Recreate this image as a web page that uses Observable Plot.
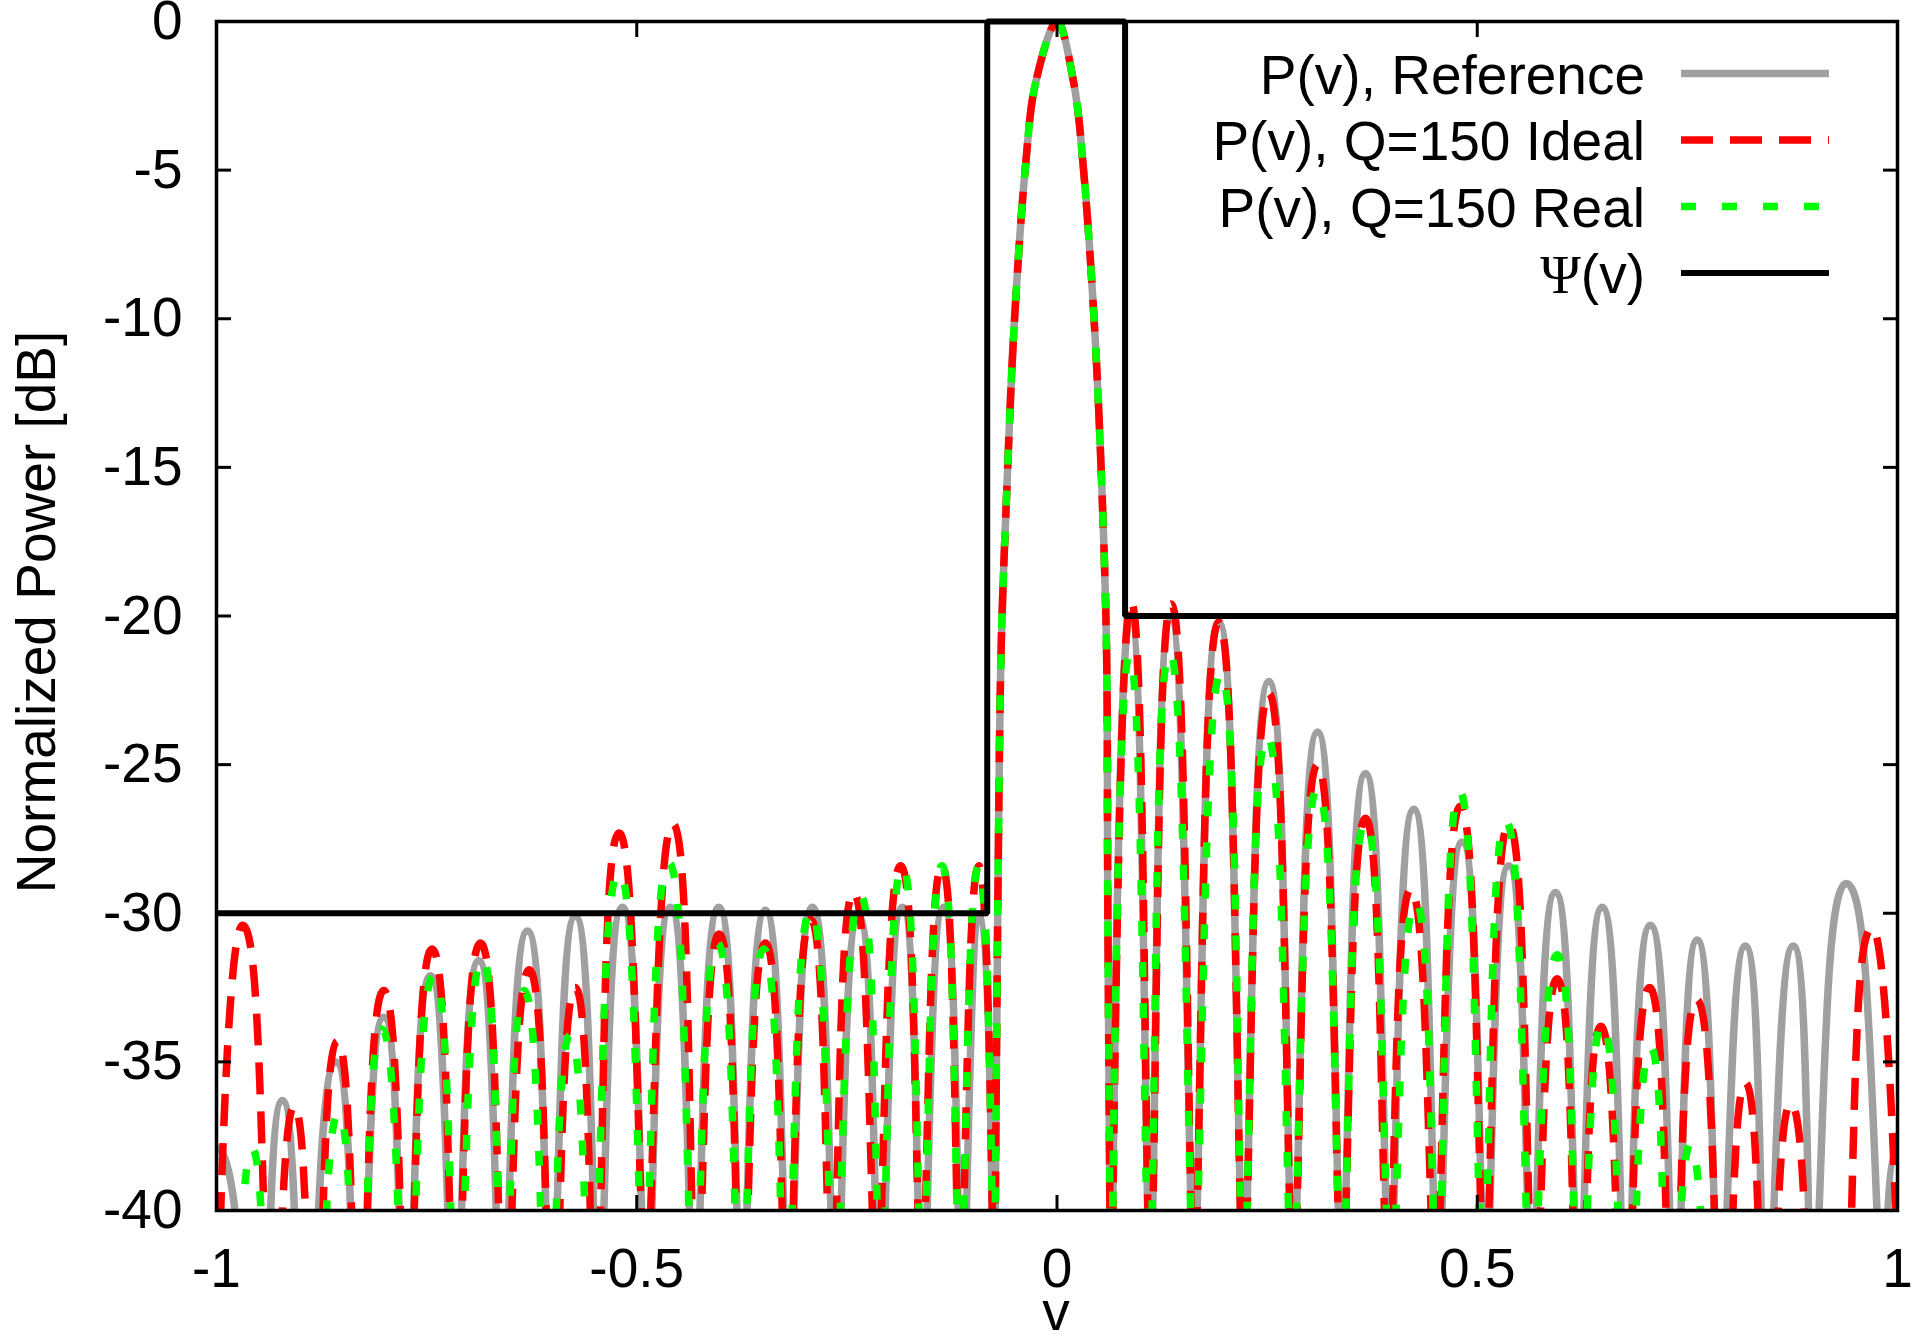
<!DOCTYPE html>
<html>
<head>
<meta charset="utf-8">
<script src="https://cdn.jsdelivr.net/npm/d3@7"></script>
<script src="https://cdn.jsdelivr.net/npm/@observablehq/plot@0.6"></script>
<style>
  html, body { margin: 0; padding: 0; background: #ffffff; }
  #chart { width: 1921px; height: 1336px; overflow: hidden; }
  #chart svg text { font-family: "Liberation Sans", Arial, Helvetica, sans-serif; }
</style>
</head>
<body>
<div id="chart"></div>
<script>
// ---------------- data ----------------
const xTicks = [-1, -0.5, 0, 0.5, 1];
const xTickLabels = ["-1", "-0.5", "0", "0.5", "1"];
const yTicks = [0, -5, -10, -15, -20, -25, -30, -35, -40];
const yTickLabels = ["0", "-5", "-10", "-15", "-20", "-25", "-30", "-35", "-40"];
const xLabel = "v";
const yLabel = "Normalized Power [dB]";
const seriesNames = ["P(v), Reference", "P(v), Q=150 Ideal", "P(v), Q=150 Real", "Ψ(v)"];

// main lobe (shared by the three P(v) curves)
const mainLobeV  = [-0.0755, -0.0705, -0.0664, -0.0601, -0.0514, -0.0375, -0.0256, 0, 0.020, 0.0312, 0.045, 0.0538, 0.0589, 0.0605, 0.065];
const mainLobeDb = [-48, -30, -21.05, -16.03, -10.45, -4.87, -2.08, 0, -2.08, -4.87, -10.45, -16.03, -21.05, -30, -48];

// Reference (gray): side-lobe peaks and nulls
const refLeftPeakV  = [-1.0, -0.9215, -0.858, -0.801, -0.7454, -0.688, -0.630, -0.573, -0.517, -0.460, -0.4024, -0.347, -0.291, -0.236, -0.184, -0.135, -0.091];
const refLeftPeakDb = [-37.9, -36.3, -35.0, -33.5, -32.1, -31.6, -30.6, -30.1, -29.8, -29.8, -29.8, -29.9, -29.8, -30.1, -29.8, -29.8, -30.0];
const refLeftNulls  = [-1.05, -0.947, -0.894, -0.830, -0.773, -0.716, -0.659, -0.601, -0.545, -0.488, -0.431, -0.375, -0.319, -0.263, -0.210, -0.160, -0.113, -0.0755];
const refRightPeakV  = [0.087, 0.135, 0.1925, 0.252, 0.310, 0.367, 0.4245, 0.482, 0.5375, 0.593, 0.6487, 0.706, 0.7617, 0.819, 0.876, 0.939, 1.0];
const refRightPeakDb = [-20.0, -20.1, -20.2, -22.2, -23.9, -25.3, -26.5, -27.6, -28.4, -29.3, -29.8, -30.4, -30.9, -31.1, -31.1, -29.0, -38.0];
const refRightNulls  = [0.065, 0.111, 0.163, 0.222, 0.281, 0.339, 0.396, 0.453, 0.510, 0.565, 0.621, 0.677, 0.736, 0.789, 0.844, 0.900, 0.982, 1.05];

// Q=150 Ideal (red)
const idealLeftPeakV  = [-0.969, -0.9076, -0.856, -0.801, -0.7434, -0.686, -0.628, -0.573, -0.521, -0.457, -0.402, -0.347, -0.293, -0.242, -0.186, -0.137, -0.093];
const idealLeftPeakDb = [-30.4, -36.5, -34.3, -32.6, -31.2, -31.0, -31.9, -32.5, -27.3, -27.0, -30.7, -31.0, -30.2, -29.3, -28.4, -28.4, -28.4];
const idealLeftNulls  = [-1.0, -0.937, -0.883, -0.829, -0.772, -0.715, -0.657, -0.600, -0.547, -0.489, -0.430, -0.375, -0.320, -0.267, -0.214, -0.161, -0.115, -0.0755];
const idealRightPeakV  = [0.088, 0.136, 0.1925, 0.252, 0.310, 0.367, 0.421, 0.480, 0.5375, 0.595, 0.647, 0.705, 0.761, 0.819, 0.873, 0.920, 0.970];
const idealRightPeakDb = [-19.5, -19.6, -20.2, -22.6, -25.0, -26.8, -29.2, -26.4, -27.0, -32.2, -33.8, -32.5, -32.9, -35.7, -36.4, -42.0, -30.5];
const idealRightNulls  = [0.065, 0.111, 0.163, 0.222, 0.281, 0.339, 0.394, 0.451, 0.509, 0.566, 0.621, 0.676, 0.733, 0.792, 0.845, 0.902, 0.940, 1.004];

// Q=150 Real (green)
const realLeftPeakV  = [-0.958, -0.908, -0.8545, -0.803, -0.7415, -0.684, -0.634, -0.579, -0.521, -0.462, -0.404, -0.349, -0.293, -0.234, -0.184, -0.137, -0.093];
const realLeftPeakDb = [-37.9, -42.0, -36.7, -33.9, -32.1, -31.5, -32.6, -34.1, -28.6, -28.3, -31.0, -31.2, -29.9, -29.4, -28.4, -28.4, -28.4];
const realLeftNulls  = [-0.985, -0.935, -0.882, -0.829, -0.772, -0.713, -0.658, -0.605, -0.550, -0.491, -0.433, -0.376, -0.321, -0.264, -0.209, -0.160, -0.115, -0.0755];
const realRightPeakV  = [0.086, 0.134, 0.195, 0.250, 0.310, 0.367, 0.4265, 0.479, 0.534, 0.595, 0.6487, 0.706, 0.754];
const realRightPeakDb = [-21.3, -21.2, -21.9, -24.0, -25.8, -26.9, -29.6, -25.9, -26.9, -31.4, -33.7, -34.5, -37.75];
const realRightNulls  = [0.065, 0.110, 0.163, 0.222, 0.280, 0.339, 0.397, 0.453, 0.507, 0.563, 0.621, 0.677, 0.728, 0.782];

// Psi(v) mask
const psiV  = [-1, -0.083, -0.083, 0.081, 0.081, 1];
const psiDb = [-30, -30, 0, 0, -20, -20];

// ---------------- build tables ----------------
function lobes(peakV, peakDb, nulls, part) {
  const out = [];
  peakV.forEach((v, i) => {
    const foot = Math.min(peakDb[i] - 15, -44); // below the visible range
    out.push({v: nulls[i], db: foot, part});
    out.push({v, db: peakDb[i], part});
    out.push({v: nulls[i + 1], db: foot, part});
  });
  return out;
}
const mainLobe = mainLobeV.map((v, i) => ({v, db: mainLobeDb[i]}));
const refSide = lobes(refLeftPeakV, refLeftPeakDb, refLeftNulls, "L").concat(lobes(refRightPeakV, refRightPeakDb, refRightNulls, "R"));
const idealSide = lobes(idealLeftPeakV, idealLeftPeakDb, idealLeftNulls, "L").concat(lobes(idealRightPeakV, idealRightPeakDb, idealRightNulls, "R"));
const realSide = lobes(realLeftPeakV, realLeftPeakDb, realLeftNulls, "L").concat(lobes(realRightPeakV, realRightPeakDb, realRightNulls, "R"));
const psi = psiV.map((v, i) => ({v, db: psiDb[i]}));

const styles = [
  {stroke: "#a0a0a0", strokeWidth: 7.5, dash: null},
  {stroke: "#ff0000", strokeWidth: 7.5, dash: "32,17"},
  {stroke: "#00ff00", strokeWidth: 7.5, dash: "15,26"},
  {stroke: "#000000", strokeWidth: 6, dash: null}
];

function seriesMarks(side, st) {
  const common = {x: "v", y: "db", stroke: st.stroke, strokeWidth: st.strokeWidth, clip: true,
    strokeDasharray: st.dash, strokeLinecap: st.dash ? "butt" : "round", strokeLinejoin: "round"};
  return [
    Plot.line(side, {...common, z: "part", curve: "cardinal", tension: -1}),
    Plot.line(mainLobe, {...common, curve: "catmull-rom"})
  ];
}

const xLab = new Map(xTicks.map((t, i) => [t, xTickLabels[i]]));
const yLab = new Map(yTicks.map((t, i) => [t, yTickLabels[i]]));
const FS = 55;

const chart = Plot.plot({
  width: 1921,
  height: 1336,
  marginLeft: 216,
  marginRight: 24,
  marginTop: 21,
  marginBottom: 126,
  x: {domain: [-1, 1]},
  y: {domain: [-40, 0]},
  style: {background: "white", color: "black", fontFamily: "Liberation Sans, Arial, sans-serif", fontSize: FS + "px"},
  marks: [
    ...seriesMarks(refSide, styles[0]),
    ...seriesMarks(idealSide, styles[1]),
    ...seriesMarks(realSide, styles[2]),
    Plot.frame({stroke: "black", strokeWidth: 3.5}),
    Plot.line(psi, {x: "v", y: "db", stroke: styles[3].stroke, strokeWidth: styles[3].strokeWidth, strokeLinejoin: "miter", strokeLinecap: "butt"}),
    // inward ticks on all four sides
    Plot.axisX(xTicks, {anchor: "bottom", tickSize: -15, strokeWidth: 3, tickFormat: () => "", label: null}),
    Plot.axisX(xTicks, {anchor: "top", tickSize: -15, strokeWidth: 3, tickFormat: () => "", label: null}),
    Plot.axisY(yTicks, {anchor: "left", tickSize: -15, strokeWidth: 3, tickFormat: () => "", label: null}),
    Plot.axisY(yTicks, {anchor: "right", tickSize: -15, strokeWidth: 3, tickFormat: () => "", label: null}),
    // tick labels
    Plot.axisX(xTicks, {anchor: "bottom", tickSize: 0, tickPadding: 37, tickFormat: d => xLab.get(d), label: null, fontSize: FS}),
    Plot.axisY(yTicks, {anchor: "left", tickSize: 0, tickPadding: 34, tickFormat: d => yLab.get(d), label: null, fontSize: FS})
  ]
});

document.getElementById("chart").appendChild(chart);

// axis titles and legend (layout in pixels)
const svg = d3.select(chart);
svg.append("text").attr("x", 1056).attr("y", 1330).attr("text-anchor", "middle")
  .attr("font-size", FS).attr("fill", "black").text(xLabel);
svg.append("text").attr("transform", "translate(55,612) rotate(-90)").attr("text-anchor", "middle")
  .attr("font-size", FS).attr("fill", "black").text(yLabel);

const legendRowY = [73.5, 140, 206.5, 273];
const lg = svg.append("g");
seriesNames.forEach((name, i) => {
  const t = lg.append("text").attr("x", 1645).attr("y", legendRowY[i] + 20)
    .attr("text-anchor", "end").attr("font-size", FS).attr("fill", "black");
  if (name.startsWith("Ψ")) {
    t.append("tspan").attr("font-family", "'Liberation Serif', 'DejaVu Serif', serif").text("Ψ");
    t.append("tspan").text(name.slice(1));
  } else {
    t.text(name);
  }
  lg.append("line").attr("x1", 1681).attr("x2", 1829).attr("y1", legendRowY[i]).attr("y2", legendRowY[i])
    .attr("stroke", styles[i].stroke).attr("stroke-width", styles[i].strokeWidth)
    .attr("stroke-dasharray", styles[i].dash).attr("stroke-linecap", "butt");
});
</script>
</body>
</html>
